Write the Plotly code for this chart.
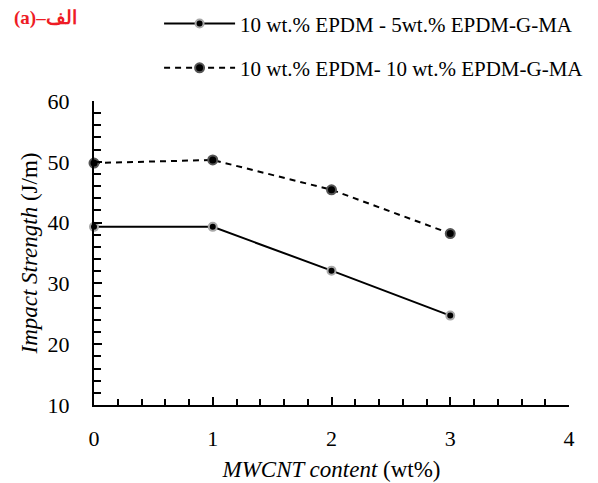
import plotly.graph_objects as go

x_vals = [0, 1, 2, 3]
series1_name = "10 wt.% EPDM - 5wt.% EPDM-G-MA"
series1 = [39.3, 39.3, 32.1, 24.7]
series2_name = "10 wt.% EPDM- 10 wt.% EPDM-G-MA"
series2 = [49.8, 50.3, 45.4, 38.2]

FONT = "Times New Roman"

fig = go.Figure()
fig.add_trace(go.Scatter(
    x=x_vals, y=series1, name=series1_name, mode="lines+markers",
    line=dict(color="black", width=2),
    marker=dict(color="black", size=8, line=dict(color="#a8a8a8", width=2)),
    legendgroup="a", cliponaxis=False,
))
fig.add_trace(go.Scatter(
    x=x_vals, y=series2, name=series2_name, mode="lines+markers",
    line=dict(color="black", width=2, dash="6px,5px"),
    marker=dict(color="black", size=9, line=dict(color="#555555", width=2)),
    legendgroup="b", cliponaxis=False,
))

axis_common = dict(
    showline=True, linecolor="black", linewidth=2,
    ticks="inside", tickcolor="black", tickwidth=2, ticklen=8,
    showgrid=False, zeroline=False, mirror=False,
    tickfont=dict(family=FONT, size=22, color="black"),
)

fig.update_xaxes(
    range=[0, 4], tickvals=[0, 1, 2, 3, 4],
    minor=dict(ticks="inside", dtick=0.2, ticklen=6, tickwidth=2, tickcolor="black", showgrid=False),
    ticklabelstandoff=13,
    title=dict(text="<i>MWCNT content</i> (wt%)", font=dict(family=FONT, size=23, color="black"), standoff=10),
    **axis_common,
)
fig.update_yaxes(
    range=[10, 60], tickvals=[10, 20, 30, 40, 50, 60],
    minor=dict(ticks="inside", dtick=2, ticklen=7, tickwidth=2, tickcolor="black", showgrid=False),
    ticklabelstandoff=18,
    title=dict(text="<i>Impact Strength</i> (J/m)", font=dict(family=FONT, size=23, color="black"), standoff=4),
    **axis_common,
)

fig.update_layout(
    width=598, height=483,
    margin=dict(l=94, r=29, t=101, b=78, autoexpand=False),
    plot_bgcolor="white", paper_bgcolor="white",
    font=dict(family=FONT),
    legend=dict(
        font=dict(family=FONT, size=21, color="black"),
        bgcolor="rgba(0,0,0,0)", itemwidth=71,
        xanchor="left", yanchor="top", x=0.137, y=0.993, yref="container",
        traceorder="grouped", tracegroupgap=14,
    ),
    annotations=[dict(
        text="<b>(a)–الف</b>", xref="paper", yref="paper",
        x=-0.1726, y=1.273, xanchor="left", yanchor="middle", showarrow=False,
        font=dict(family=FONT, size=19, color="#ee1c25"),
    )],
)

fig.write_html("out.html")
